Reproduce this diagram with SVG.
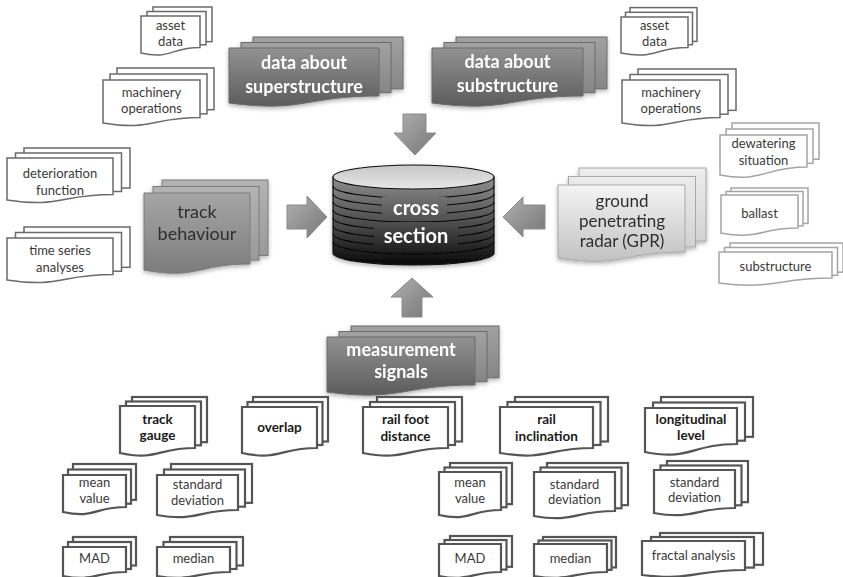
<svg xmlns="http://www.w3.org/2000/svg" width="843" height="577" viewBox="0 0 843 577">
<defs>
<linearGradient id="gDark" x1="0" y1="0" x2="0" y2="1"><stop offset="0" stop-color="#929292"/><stop offset="1" stop-color="#5c5c5c"/></linearGradient>
<linearGradient id="gDarkB" x1="0" y1="0" x2="0" y2="1"><stop offset="0" stop-color="#a2a2a2"/><stop offset="1" stop-color="#858585"/></linearGradient>
<linearGradient id="gMid" x1="0" y1="0" x2="0" y2="1"><stop offset="0" stop-color="#a6a6a6"/><stop offset="1" stop-color="#7c7c7c"/></linearGradient>
<linearGradient id="gMidB" x1="0" y1="0" x2="0" y2="1"><stop offset="0" stop-color="#b4b4b4"/><stop offset="1" stop-color="#999"/></linearGradient>
<linearGradient id="gLight" x1="0" y1="0" x2="0" y2="1"><stop offset="0" stop-color="#f4f4f4"/><stop offset="1" stop-color="#c2c2c2"/></linearGradient>
<linearGradient id="gLightB" x1="0" y1="0" x2="0" y2="1"><stop offset="0" stop-color="#ececec"/><stop offset="1" stop-color="#d2d2d2"/></linearGradient>
<linearGradient id="gArrow" x1="0" y1="0" x2="1" y2="1"><stop offset="0" stop-color="#b0b0b0"/><stop offset="1" stop-color="#777"/></linearGradient>
<linearGradient id="gCyl" gradientUnits="userSpaceOnUse" x1="0" y1="177" x2="0" y2="265"><stop offset="0" stop-color="#8e8e8e"/><stop offset="0.55" stop-color="#4a4a4a"/><stop offset="1" stop-color="#080808"/></linearGradient>
<linearGradient id="gTop" x1="0" y1="0" x2="0" y2="1"><stop offset="0" stop-color="#c8c8c8"/><stop offset="1" stop-color="#e6e6e6"/></linearGradient>
<filter id="sh" x="-10%" y="-10%" width="120%" height="130%"><feDropShadow dx="0" dy="2" stdDeviation="2" flood-color="#000" flood-opacity="0.3"/></filter>
</defs>
<style>
.t{font-family:Lato,'Liberation Sans',sans-serif;text-anchor:middle}
.s{font-size:13px;fill:#3a3a3a}
.b{font-size:13.5px;font-weight:bold;fill:#1a1a1a}
.w{font-size:18px;font-weight:bold;fill:#fff}
.m{font-size:18px;fill:#2e2e2e}
.g{font-size:17px;fill:#2e2e2e}
.nw{fill:#fff;stroke:#6a6a6a;stroke-width:1.5}
.nr{fill:#fff;stroke:#a4a4a4;stroke-width:1.5}
.nb{fill:#fff;stroke:#555;stroke-width:2.2}
.dk{fill:url(#gDark);stroke:#6a6a6a;stroke-width:1}
.dkb{fill:url(#gDarkB);stroke:#6a6a6a;stroke-width:1}
.md{fill:url(#gMid);stroke:#7a7a7a;stroke-width:1}
.mdb{fill:url(#gMidB);stroke:#7a7a7a;stroke-width:1}
.lt{fill:url(#gLight);stroke:#a8a8a8;stroke-width:1}
.ltb{fill:url(#gLightB);stroke:#a8a8a8;stroke-width:1}
.ar{fill:url(#gArrow);stroke:#8a8a8a;stroke-width:1}
.st{fill:none;stroke:#050505;stroke-width:1.2}
</style>
<rect width="843" height="577" fill="#fff"/>

<g id="connectors">
<path class="ar" d="M403 114 H426 V133 H436 L415 155 L394 133 H403 Z"/>
<path class="ar" d="M402 317 H422 V297 H433 L412 278 L391 297 H402 Z"/>
<path class="ar" d="M287 205 H307 V196 L327 217 L307 238 V229 H287 Z"/>
<path class="ar" d="M545 205 H523 V197 L503 217 L523 237 V229 H545 Z"/>
</g>

<g id="cross-section" filter="url(#sh)">
<path d="M333 177 V253 A80.5 12 0 0 0 494 253 V177 Z" fill="url(#gCyl)" stroke="#111" stroke-width="1.2"/>
<path class="st" d="M333 186 A80.5 12 0 0 0 494 186 M333 194 A80.5 12 0 0 0 494 194 M333 202 A80.5 12 0 0 0 494 202 M333 210 A80.5 12 0 0 0 494 210 M333 218 A80.5 12 0 0 0 494 218 M333 226 A80.5 12 0 0 0 494 226 M333 234 A80.5 12 0 0 0 494 234 M333 242 A80.5 12 0 0 0 494 242"/>
<rect x="382" y="197" width="65" height="23" fill="url(#gCyl)"/>
<rect x="374" y="222" width="84" height="26" fill="url(#gCyl)"/>
<ellipse cx="413.5" cy="177" rx="80.5" ry="12" fill="url(#gTop)" stroke="#111" stroke-width="1.2"/>
<text class="t w" style="font-size:20px" x="416" y="215">cross</text>
<text class="t w" style="font-size:20px" x="416" y="243">section</text>
</g>

<g id="superstructure" filter="url(#sh)">
<rect class="dkb" x="253" y="37" width="150" height="51.85"/>
<rect class="dkb" x="241" y="42.5" width="150" height="50.2"/>
<path class="dk" d="M229 48 H379 V96 C304 96 304 113 229 103 Z"/>
<text class="t w" x="304" y="69">data about</text>
<text class="t w" x="304" y="93">superstructure</text>
</g>

<g id="substructure-data" filter="url(#sh)">
<rect class="dkb" x="456" y="37" width="151" height="51.85"/>
<rect class="dkb" x="444" y="42.5" width="151" height="50.2"/>
<path class="dk" d="M432 48 H583 V96 C507.5 96 507.5 113 432 103 Z"/>
<text class="t w" x="507.5" y="68">data about</text>
<text class="t w" x="507.5" y="92">substructure</text>
</g>

<g id="asset-data-left">
<rect class="nw" x="153" y="7" width="59" height="34.65"/>
<rect class="nw" x="147" y="11.5" width="59" height="33.3"/>
<path class="nw" d="M141 16 H200 V47.5 C170.5 47.5 170.5 60 141 53 Z"/>
<text class="t s" x="170.5" y="30">asset</text>
<text class="t s" x="170.5" y="46">data</text>
</g>

<g id="machinery-left">
<rect class="nw" x="117" y="68" width="97" height="41.7"/>
<rect class="nw" x="110" y="74" width="97" height="39.9"/>
<path class="nw" d="M103 80 H200 V117.5 C151.5 117.5 151.5 131 103 123 Z"/>
<text class="t s" x="151.5" y="97">machinery</text>
<text class="t s" x="151.5" y="113">operations</text>
</g>

<g id="asset-data-right">
<rect class="nw" x="630" y="7.6" width="67" height="33.8"/>
<rect class="nw" x="625.5" y="12.3" width="67" height="32.4"/>
<path class="nw" d="M621 17 H688 V47.5 C654.5 47.5 654.5 60 621 53 Z"/>
<text class="t s" x="654.5" y="30">asset</text>
<text class="t s" x="654.5" y="46">data</text>
</g>

<g id="machinery-right">
<rect class="nw" x="638" y="69" width="98" height="41.35"/>
<rect class="nw" x="630" y="74.5" width="98" height="39.7"/>
<path class="nw" d="M622 80 H720 V117.5 C671 117.5 671 131 622 123 Z"/>
<text class="t s" x="671" y="97">machinery</text>
<text class="t s" x="671" y="113">operations</text>
</g>

<g id="deterioration">
<rect class="nw" x="24" y="148" width="106" height="40"/>
<rect class="nw" x="15.5" y="153" width="106" height="38.5"/>
<path class="nw" d="M7 158 H113 V194.5 C60 194.5 60 208 7 200 Z"/>
<text class="t s" x="60" y="178">deterioration</text>
<text class="t s" x="60" y="195">function</text>
</g>

<g id="time-series">
<rect class="nw" x="24" y="227" width="106" height="40.35"/>
<rect class="nw" x="15.5" y="232.5" width="106" height="38.7"/>
<path class="nw" d="M7 238 H113 V274.5 C60 274.5 60 288 7 280 Z"/>
<text class="t s" x="60" y="255">time series</text>
<text class="t s" x="60" y="272">analyses</text>
</g>

<g id="track-behaviour" filter="url(#sh)">
<rect class="mdb" x="162" y="180" width="106" height="75.55"/>
<rect class="mdb" x="153" y="186.5" width="106" height="73.6"/>
<path class="md" d="M144 193 H250 V264 C197 264 197 280 144 270 Z"/>
<text class="t m" x="197" y="218">track</text>
<text class="t m" x="197" y="240">behaviour</text>
</g>

<g id="gpr" filter="url(#sh)">
<rect class="ltb" x="579" y="168" width="127" height="73"/>
<rect class="ltb" x="568.5" y="176.5" width="127" height="70.4"/>
<path class="lt" d="M558 185 H685 V252 C621.5 252 621.5 268 558 258 Z"/>
<text class="t g" x="622" y="207">ground</text>
<text class="t g" x="622" y="227">penetrating</text>
<text class="t g" x="622" y="247">radar (GPR)</text>
</g>

<g id="dewatering">
<rect class="nr" x="732" y="123" width="87" height="36.2"/>
<rect class="nr" x="726" y="129" width="87" height="34.4"/>
<path class="nr" d="M720 135 H807 V167 C763.5 167 763.5 183 720 175 Z"/>
<text class="t s" x="763.5" y="148">dewatering</text>
<text class="t s" x="763.5" y="165">situation</text>
</g>

<g id="ballast">
<rect class="nr" x="731" y="188" width="77" height="35.45"/>
<rect class="nr" x="726" y="191.5" width="77" height="34.4"/>
<path class="nr" d="M721 195 H798 V228 C759.5 228 759.5 240 721 233 Z"/>
<text class="t s" x="759.5" y="218">ballast</text>
</g>

<g id="substructure">
<rect class="nr" x="730" y="243" width="113" height="29.15"/>
<rect class="nr" x="724.5" y="247.5" width="113" height="27.8"/>
<path class="nr" d="M719 252 H832 V278 C775.5 278 775.5 290 719 283 Z"/>
<text class="t s" x="775.5" y="271">substructure</text>
</g>

<g id="measurement-signals" filter="url(#sh)">
<rect class="dkb" x="351" y="326" width="148" height="51.85"/>
<rect class="dkb" x="339" y="331.5" width="148" height="50.2"/>
<path class="dk" d="M327 337 H475 V385 C401 385 401 402 327 392 Z"/>
<text class="t w" x="401" y="356">measurement</text>
<text class="t w" x="401" y="378">signals</text>
</g>

<g id="track-gauge">
<rect class="nb" x="132" y="397" width="75" height="45.15"/>
<rect class="nb" x="126" y="401.5" width="75" height="43.8"/>
<path class="nb" d="M120 406 H195 V448 C157.5 448 157.5 461 120 453 Z"/>
<text class="t b" x="157.5" y="424">track</text>
<text class="t b" x="157.5" y="440">gauge</text>
</g>

<g id="overlap">
<rect class="nb" x="253" y="397" width="75" height="44.5"/>
<rect class="nb" x="247.5" y="402" width="75" height="43"/>
<path class="nb" d="M242 407 H317 V448 C279.5 448 279.5 461 242 453 Z"/>
<text class="t b" x="279.5" y="432">overlap</text>
</g>

<g id="rail-foot-distance">
<rect class="nb" x="377" y="397" width="85" height="44.5"/>
<rect class="nb" x="370" y="402" width="85" height="43"/>
<path class="nb" d="M363 407 H448 V448 C405.5 448 405.5 461 363 453 Z"/>
<text class="t b" x="405.5" y="424">rail foot</text>
<text class="t b" x="405.5" y="441">distance</text>
</g>

<g id="rail-inclination">
<rect class="nb" x="515" y="397" width="93" height="44.5"/>
<rect class="nb" x="507.5" y="402" width="93" height="43"/>
<path class="nb" d="M500 407 H593 V448 C546.5 448 546.5 461 500 453 Z"/>
<text class="t b" x="546.5" y="424">rail</text>
<text class="t b" x="546.5" y="441">inclination</text>
</g>

<g id="longitudinal-level">
<rect class="nb" x="661" y="397" width="92" height="39.85"/>
<rect class="nb" x="653" y="402.5" width="92" height="38.2"/>
<path class="nb" d="M645 408 H737 V444 C691 444 691 461 645 452 Z"/>
<text class="t b" x="691" y="424">longitudinal</text>
<text class="t b" x="691" y="440">level</text>
</g>

<g id="mean-value-left">
<rect class="nb" x="73" y="464" width="63" height="35.85"/>
<rect class="nb" x="68" y="469.5" width="63" height="34.2"/>
<path class="nb" d="M63 475 H126 V507 C94.5 507 94.5 519 63 512 Z"/>
<text class="t s" x="94.5" y="487">mean</text>
<text class="t s" x="94.5" y="503">value</text>
</g>

<g id="std-dev-left">
<rect class="nb" x="171" y="464" width="81" height="38.85"/>
<rect class="nb" x="164" y="469.5" width="81" height="37.2"/>
<path class="nb" d="M157 475 H238 V510 C197.5 510 197.5 522 157 515 Z"/>
<text class="t s" x="197.5" y="489">standard</text>
<text class="t s" x="197.5" y="505">deviation</text>
</g>

<g id="mad-left">
<rect class="nb" x="73" y="537" width="63" height="28.5"/>
<rect class="nb" x="68" y="542" width="63" height="27"/>
<path class="nb" d="M63 547 H126 V572 C94.5 572 94.5 582 63 576 Z"/>
<text class="t s" x="94.5" y="563">MAD</text>
</g>

<g id="median-left">
<rect class="nb" x="170" y="537" width="73" height="28.5"/>
<rect class="nb" x="163.5" y="542" width="73" height="27"/>
<path class="nb" d="M157 547 H230 V572 C193.5 572 193.5 582 157 576 Z"/>
<text class="t s" x="193.5" y="563">median</text>
</g>

<g id="mean-value-right">
<rect class="nb" x="450" y="463" width="62" height="41.15"/>
<rect class="nb" x="444.5" y="467.5" width="62" height="39.8"/>
<path class="nb" d="M439 472 H501 V510 C470 510 470 522 439 515 Z"/>
<text class="t s" x="470" y="487">mean</text>
<text class="t s" x="470" y="503">value</text>
</g>

<g id="std-dev-middle">
<rect class="nb" x="547" y="463" width="81" height="42.15"/>
<rect class="nb" x="540.5" y="467.5" width="81" height="40.8"/>
<path class="nb" d="M534 472 H615 V511 C574.5 511 574.5 523 534 516 Z"/>
<text class="t s" x="574.5" y="489">standard</text>
<text class="t s" x="574.5" y="504">deviation</text>
</g>

<g id="std-dev-right">
<rect class="nb" x="667" y="461" width="81" height="41.15"/>
<rect class="nb" x="660.5" y="465.5" width="81" height="39.8"/>
<path class="nb" d="M654 470 H735 V508 C694.5 508 694.5 520 654 513 Z"/>
<text class="t s" x="694.5" y="487">standard</text>
<text class="t s" x="694.5" y="502">deviation</text>
</g>

<g id="mad-right">
<rect class="nb" x="450" y="536" width="62" height="30.8"/>
<rect class="nb" x="444.5" y="540" width="62" height="29.6"/>
<path class="nb" d="M439 544 H501 V572 C470 572 470 582 439 576 Z"/>
<text class="t s" x="470" y="563">MAD</text>
</g>

<g id="median-right">
<rect class="nb" x="543" y="537" width="73" height="30.45"/>
<rect class="nb" x="538.5" y="540.5" width="73" height="29.4"/>
<path class="nb" d="M534 544 H607 V572 C570.5 572 570.5 582 534 576 Z"/>
<text class="t s" x="570.5" y="563">median</text>
</g>

<g id="fractal-analysis">
<rect class="nb" x="660" y="533" width="103" height="31.8"/>
<rect class="nb" x="651" y="537" width="103" height="30.6"/>
<path class="nb" d="M642 541 H745 V570 C693.5 570 693.5 581 642 575 Z"/>
<text class="t s" x="693.5" y="560">fractal analysis</text>
</g>
</svg>
